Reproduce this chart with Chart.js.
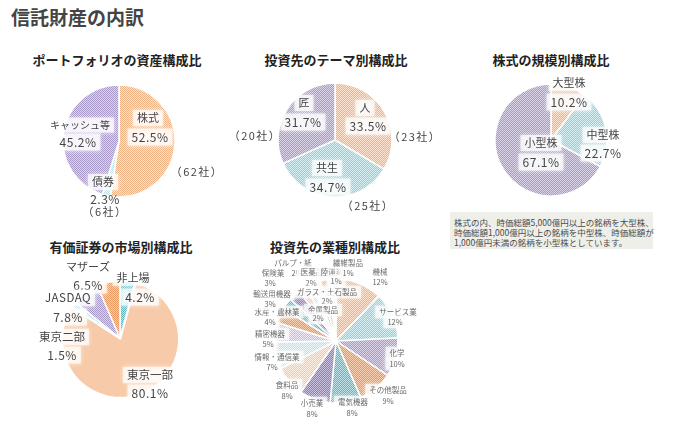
<!DOCTYPE html>
<html>
<head>
<meta charset="utf-8">
<script src="https://cdn.jsdelivr.net/npm/chart.js@4/dist/chart.umd.min.js"></script>
<style>
  body { margin: 0; background: #fff; width: 673px; height: 428px; position: relative; overflow: hidden;
         font-family: "Noto Sans CJK JP", "Noto Sans", sans-serif; }
  .title { position: absolute; left: 11px; top: 3px; font-size: 19px; font-weight: bold; color: #444; }
  .sub { position: absolute; font-size: 13px; font-weight: bold; color: #222; text-align: center; width: 220px; }
  canvas { position: absolute; }
  .note { position: absolute; left: 450px; top: 212px; width: 203px; height: 37px; background: #efefe9;
          font-size: 8.5px; line-height: 10px; color: #4a4a4a; padding: 5px 0 0 4px; box-sizing: border-box; white-space: nowrap; }
</style>
</head>
<body>
<div class="title">信託財産の内訳</div>
<div class="sub" style="left:7px;top:50px">ポートフォリオの資産構成比</div>
<div class="sub" style="left:226px;top:50px">投資先のテーマ別構成比</div>
<div class="sub" style="left:441px;top:50px">株式の規模別構成比</div>
<div class="sub" style="left:11px;top:237px">有価証券の市場別構成比</div>
<div class="sub" style="left:225px;top:237px">投資先の業種別構成比</div>
<div class="note">株式の内、時価総額5,000億円以上の銘柄を大型株、<br>時価総額1,000億円以上の銘柄を中型株、時価総額が<br>1,000億円未満の銘柄を小型株としています。</div>

<canvas id="c1" width="220" height="180"></canvas>
<canvas id="c2" width="220" height="180"></canvas>
<canvas id="c3" width="220" height="180"></canvas>
<canvas id="c4" width="220" height="180"></canvas>
<canvas id="c5" width="200" height="180"></canvas>

<script>
// data
const portfolioLabels = ['株式', '債券', 'キャッシュ等'];
const portfolioValues = [52.5, 2.3, 45.2];
const portfolioCounts = [62, 6, null];

const themeLabels = ['人', '共生', '匠'];
const themeValues = [33.5, 34.7, 31.7];
const themeCounts = [23, 25, 20];

const sizeLabels = ['大型株', '中型株', '小型株'];
const sizeValues = [10.2, 22.7, 67.1];

const marketLabels = ['非上場', '東京一部', '東京二部', 'JASDAQ', 'マザーズ'];
const marketValues = [4.2, 80.1, 1.5, 7.8, 6.5];

const industryLabels = ['機械', 'サービス業', '化学', 'その他製品', '電気機器', '小売業', '食料品',
  '情報・通信業', '精密機器', '水産・農林業', '輸送用機器', '保険業', 'パルプ・紙', '医薬品',
  'ガラス・土石製品', '金属製品', '陸運業', '繊維製品'];
const industryValues = [12, 12, 10, 9, 8, 8, 8, 7, 5, 4, 3, 3, 2, 2, 2, 2, 1, 1];

// hatched fills
function hatch(pair) {
  const c = document.createElement('canvas');
  c.width = 4; c.height = 4;
  const g = c.getContext('2d');
  g.fillStyle = pair[1];
  g.fillRect(0, 0, 4, 4);
  g.fillStyle = pair[0];
  for (let y = 0; y < 4; y++)
    for (let x = 0; x < 4; x++)
      if ((x + y) % 2 === 0) g.fillRect(x, y, 1, 1);
  return g.createPattern(c, 'repeat');
}
const C = {
  orange: hatch(['#f2b384', '#fde3cf']),
  orangeDark: hatch(['#e8985f', '#f7d0b3']),
  orangeLight: hatch(['#f5c6a2', '#fff0e4']),
  blue: hatch(['#8fd0dc', '#d6eff3']),
  blueDark: hatch(['#5fb5c2', '#bfe3e8']),
  blueLight: hatch(['#b5e1e9', '#eef9fb']),
  purple: hatch(['#a899c9', '#dcd5ea']),
  purpleDark: hatch(['#8e7fb8', '#cbc2df']),
  purpleLight: hatch(['#c6bbdd', '#efebf6'])
};

const pct = v => v + '%';
const cnt = n => '（' + n + '社）';

// label plugin: labels are placed relative to the pie centre
const labelPlugin = {
  id: 'pieLabels',
  afterDraw(chart) {
    const items = chart.options.plugins.pieLabels.items || [];
    const arc = chart.getDatasetMeta(0).data[0];
    const cx = arc.x, cy = arc.y;
    const ctx = chart.ctx;
    ctx.save();
    ctx.textAlign = 'center';
    ctx.textBaseline = 'middle';
    items.forEach(it => {
      ctx.font = (it.size || 11) + 'px "Noto Sans CJK JP", sans-serif';
      ctx.letterSpacing = (it.ls || 0) + 'px';
      const w = ctx.measureText(it.text).width;
      const x = cx + it.dx, y = cy + it.dy;
      if (it.box) {
        ctx.save();
        ctx.fillStyle = 'rgba(255,255,255,0.68)';
        ctx.shadowColor = 'rgba(255,255,255,0.9)';
        ctx.shadowBlur = 4;
        const h = (it.size || 11) + 5;
        ctx.fillRect(x - w / 2 - 4, y - h / 2, w + 8, h);
        ctx.restore();
      }
      ctx.fillStyle = it.color || '#444';
      ctx.fillText(it.text, x, y);
    });
    ctx.restore();
  }
};

function makePie(id, cx, cy, labels, values, colors, radius, items, offsets) {
  const cv = document.getElementById(id);
  cv.style.left = (cx - cv.width / 2) + 'px';
  cv.style.top = (cy - cv.height / 2) + 'px';
  return new Chart(cv.getContext('2d'), {
    type: 'pie',
    data: {
      labels: labels,
      datasets: [{
        data: values,
        backgroundColor: colors,
        borderColor: '#fff',
        borderWidth: 1.5,
        offset: offsets || 0
      }]
    },
    options: {
      responsive: false,
      animation: false,
      radius: radius,
      layout: { padding: 0 },
      plugins: {
        legend: { display: false },
        tooltip: { enabled: false },
        pieLabels: { items: items }
      }
    },
    plugins: [labelPlugin]
  });
}

// ポートフォリオの資産構成比
makePie('c1', 119, 141, portfolioLabels, portfolioValues,
  [C.orange, C.blueLight, C.purple], 56, [
    { text: portfolioLabels[0], dx: 29, dy: -23, size: 11, box: true },
    { text: pct(portfolioValues[0]), dx: 31, dy: -4, size: 12, ls: 0.5, box: true },
    { text: cnt(portfolioCounts[0]), dx: 78, dy: 31, size: 11, ls: 1.5 },
    { text: portfolioLabels[2], dx: -39, dy: -16, size: 10, box: true },
    { text: pct(portfolioValues[2]), dx: -41, dy: 1, size: 12, ls: 0.5, box: true },
    { text: portfolioLabels[1], dx: -16, dy: 41, size: 11, box: true },
    { text: pct(portfolioValues[1]), dx: -14, dy: 58, size: 12, ls: 0.5 },
    { text: cnt(portfolioCounts[1]), dx: -14, dy: 71, size: 11, ls: 1.5 }
  ]);

// 投資先のテーマ別構成比
makePie('c2', 335, 140, themeLabels, themeValues,
  [C.orange, C.blue, C.purple], 57, [
    { text: themeLabels[0], dx: 30, dy: -32, size: 11, box: true },
    { text: pct(themeValues[0]), dx: 33, dy: -14, size: 12, ls: 0.5, box: true },
    { text: cnt(themeCounts[0]), dx: 80, dy: -3, size: 11, ls: 1.5 },
    { text: themeLabels[1], dx: -8, dy: 28, size: 11, box: true },
    { text: pct(themeValues[1]), dx: -7, dy: 47, size: 12, ls: 0.5, box: true },
    { text: cnt(themeCounts[1]), dx: 33, dy: 66, size: 11, ls: 1.5 },
    { text: themeLabels[2], dx: -31, dy: -37, size: 11, box: true },
    { text: pct(themeValues[2]), dx: -32, dy: -18, size: 12, ls: 0.5, box: true },
    { text: cnt(themeCounts[2]), dx: -80, dy: -4, size: 11, ls: 1.5 }
  ]);

// 株式の規模別構成比
makePie('c3', 551, 140, sizeLabels, sizeValues,
  [C.orange, C.blue, C.purple], 56, [
    { text: sizeLabels[0], dx: 18, dy: -57, size: 11, box: true },
    { text: pct(sizeValues[0]), dx: 18, dy: -38, size: 12, ls: 0.5, box: true },
    { text: sizeLabels[1], dx: 52, dy: -5, size: 11, box: true },
    { text: pct(sizeValues[1]), dx: 52, dy: 13, size: 12, ls: 0.5, box: true },
    { text: sizeLabels[2], dx: -10, dy: 3, size: 11, box: true },
    { text: pct(sizeValues[2]), dx: -10, dy: 22, size: 12, ls: 0.5, box: true }
  ]);

// 有価証券の市場別構成比
makePie('c4', 120, 338, marketLabels, marketValues,
  [C.blueDark, C.orange, C.blueLight, C.purple, C.orangeDark], 57, [
    { text: marketLabels[0], dx: 13, dy: -60, size: 11, box: true },
    { text: pct(marketValues[0]), dx: 20, dy: -41, size: 12, ls: 0.5, box: true },
    { text: marketLabels[4], dx: -32, dy: -71, size: 11, box: true },
    { text: pct(marketValues[4]), dx: -32, dy: -53, size: 12, ls: 0.5, box: true },
    { text: marketLabels[3], dx: -52, dy: -40, size: 11.5, ls: 0.5, box: true },
    { text: pct(marketValues[3]), dx: -52, dy: -21, size: 12, ls: 0.5, box: true },
    { text: marketLabels[2], dx: -58, dy: -1, size: 11.5, box: true },
    { text: pct(marketValues[2]), dx: -58, dy: 17, size: 12, ls: 0.5, box: true },
    { text: marketLabels[1], dx: 30, dy: 37, size: 11.5, box: true },
    { text: pct(marketValues[1]), dx: 30, dy: 55, size: 12, ls: 0.5, box: true }
  ], [0, 5, 0, 0, 0]);

// 投資先の業種別構成比
const industryColors = [C.orange, C.blue, C.purple, C.orangeDark, C.blueDark, C.purpleDark,
  C.orangeLight, C.blueLight, C.purpleLight, C.orangeDark, C.blueDark, C.purpleDark,
  C.orangeLight, C.blueLight, C.purpleLight, C.orange, C.blue, C.purple];
const industryPos = [
  [44, -69, 44, -59], [62, -29, 59, -19], [61, 12, 61, 23], [52, 49, 52, 60],
  [17, 61, 16, 72], [-24, 62, -24, 73], [-49, 44, -49, 55], [-59, 16, -64, 26],
  [-66, -7, -68, 3], [-59, -29, -66, -19], [-64, -47, -66, -37], [-63, -68, -66, -58],
  [-43, -78, -39, -68], [-24, -69, -25, -58], [-9, -49, -9, -40], [-13, -31, -18, -23],
  [-4, -69, 0, -60], [12, -78, 12, -68]
];
const industryItems = [];
industryLabels.forEach((name, i) => {
  const p = industryPos[i];
  industryItems.push({ text: name, dx: p[0], dy: p[1], size: 7.5, color: '#666', box: true });
  industryItems.push({ text: pct(industryValues[i]), dx: p[2], dy: p[3], size: 7.5, color: '#666', box: true });
});
makePie('c5', 336, 341, industryLabels, industryValues, industryColors, 62, industryItems);
</script>
</body>
</html>
